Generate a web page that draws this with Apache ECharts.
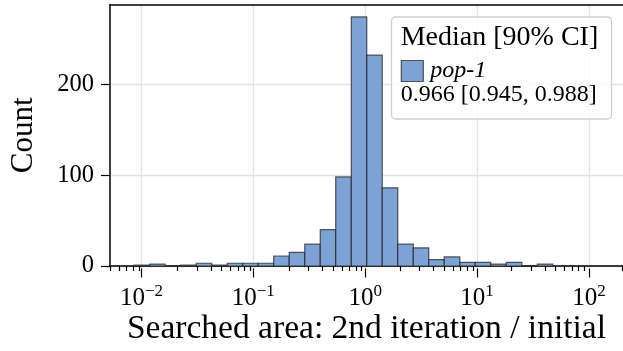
<!DOCTYPE html>
<html><head><meta charset="utf-8">
<script src="https://cdn.jsdelivr.net/npm/echarts@6/dist/echarts.min.js"></script>
<style>html,body{margin:0;padding:0;background:#fff}#c{width:623px;height:351px}</style>
</head><body><div id="c"></div>
<script>
// ---- data ----
const binEdgesLog10 = [-2.088, -1.948, -1.809, -1.670, -1.530, -1.391, -1.252, -1.112, -0.973, -0.834,
  -0.695, -0.555, -0.416, -0.277, -0.137, 0.002, 0.141, 0.280, 0.420, 0.559,
  0.698, 0.838, 0.977, 1.116, 1.255, 1.395, 1.534, 1.673];
const counts = [1, 2, 0, 1, 3, 1, 3, 3, 3, 11,
  15, 24, 40, 98, 274, 232, 86, 24, 20, 7,
  10, 4, 4, 2, 4, 0, 2];
const xMajorExponents = [-2, -1, 0, 1, 2];
const yTickValues = [0, 100, 200];
const seriesName = 'pop-1';
const legendTitle = 'Median [90% CI]';
const legendValue = '0.966 [0.945, 0.988]';
const xAxisTitle = 'Searched area: 2nd iteration / initial';
const yAxisTitle = 'Count';

// ---- styling / layout ----
const FONT = '"Liberation Serif", "Times New Roman", serif';
const BAR = '#7ca2d6';
const EDGE = 'rgba(25,25,25,0.7)';
const GRIDC = '#e4e4e4';
const X_MIN = -2.305, X_MAX = 2.304, Y_MAX = 287.7;
const W = 623;
const gridTop = 4.5, gridBottom = 82.5, gridLeft = 107.3;
const pxPerDec = (W - gridLeft) / (X_MAX - X_MIN);
const g2Left = gridLeft + (xMajorExponents[0] - X_MIN) * pxPerDec;
const g2Right = W - (gridLeft + (xMajorExponents[xMajorExponents.length - 1] - X_MIN) * pxPerDec);

const data = counts.map((c, i) => [binEdgesLog10[i], binEdgesLog10[i + 1], c]);
const minorTicks = [];
for (let n = -3; n <= 2; n++) for (let k = 2; k <= 9; k++) {
  const v = n + Math.log10(k);
  if (v >= X_MIN && v <= X_MAX) minorTicks.push(v);
}
const axisLineStyle = { color: '#000', width: 1.5 };
const tickStyle = { color: '#000', width: 1.2 };

const chart = echarts.init(document.getElementById('c'), null, { renderer: 'canvas' });
chart.setOption({
  animation: false,
  grid: [
    { left: gridLeft, right: 0, top: gridTop, bottom: gridBottom },
    { left: g2Left, right: g2Right, top: gridTop, bottom: gridBottom }
  ],
  xAxis: [
    { gridIndex: 0, type: 'value', min: X_MIN, max: X_MAX, position: 'bottom',
      axisLine: { show: true, onZero: false, lineStyle: axisLineStyle },
      axisTick: { show: true, length: 5, customValues: minorTicks, lineStyle: tickStyle },
      axisLabel: { show: false }, splitLine: { show: false },
      name: xAxisTitle, nameLocation: 'middle', nameGap: 46,
      nameTextStyle: { fontFamily: FONT, fontSize: 33.5, color: '#000' } },
    { gridIndex: 0, type: 'value', min: X_MIN, max: X_MAX, position: 'top',
      axisLine: { show: true, onZero: false, lineStyle: axisLineStyle },
      axisTick: { show: false }, axisLabel: { show: false }, splitLine: { show: false } },
    { gridIndex: 1, type: 'value', min: xMajorExponents[0], max: xMajorExponents[xMajorExponents.length - 1], interval: 1, position: 'bottom',
      axisLine: { show: false, onZero: false },
      axisTick: { show: true, length: 9, lineStyle: tickStyle },
      axisLabel: { show: true, margin: 15,
        formatter: v => '{b|10}{s|' + (v < 0 ? '\u2212' + Math.abs(v) : v) + '}',
        rich: {
          b: { fontFamily: FONT, fontSize: 25, lineHeight: 30, color: '#000' },
          s: { fontFamily: FONT, fontSize: 17, lineHeight: 17, verticalAlign: 'top', color: '#000' }
        } },
      splitLine: { show: true, lineStyle: { color: GRIDC, width: 1.3 } } }
  ],
  yAxis: [
    { gridIndex: 0, type: 'value', min: 0, max: Y_MAX, interval: 100,
      axisLine: { show: true, onZero: false, lineStyle: axisLineStyle },
      axisTick: { show: true, length: 9, customValues: yTickValues, lineStyle: tickStyle },
      axisLabel: { show: true, customValues: yTickValues, margin: 16, fontFamily: FONT, fontSize: 24.5, color: '#000' },
      splitLine: { show: true, lineStyle: { color: GRIDC, width: 1.3 } },
      name: yAxisTitle, nameLocation: 'middle', nameGap: 71, nameRotate: 90,
      nameTextStyle: { fontFamily: FONT, fontSize: 31, color: '#000' } },
    { gridIndex: 1, type: 'value', min: 0, max: Y_MAX, show: false }
  ],
  legend: {
    data: [{ name: seriesName, icon: 'rect', itemStyle: { color: BAR, borderColor: EDGE, borderWidth: 1.2 } }],
    left: 400.7, top: 59, itemWidth: 22, itemHeight: 21, padding: 0, selectedMode: false, z: 20,
    textStyle: { fontFamily: FONT, fontSize: 24, fontStyle: 'italic', color: '#000', padding: [0, 0, 6, 2] }
  },
  graphic: [
    { type: 'rect', z: 10, shape: { x: 391.5, y: 17, width: 220, height: 102, r: 4 },
      style: { fill: 'rgba(255,255,255,0.8)', stroke: '#cfcfcf', lineWidth: 1.3 } },
    { type: 'text', z: 11, x: 400.7, y: 37.9,
      style: { text: legendTitle, fontFamily: FONT, fontSize: 28, fill: '#000', verticalAlign: 'middle' } },
    { type: 'text', z: 11, x: 400.7, y: 94.6,
      style: { text: legendValue, fontFamily: FONT, fontSize: 24, fill: '#000', verticalAlign: 'middle' } }
  ],
  series: [{
    type: 'custom', name: seriesName, xAxisIndex: 0, yAxisIndex: 0,
    encode: { x: [0, 1], y: 2 },
    renderItem: (params, api) => {
      const p0 = api.coord([api.value(0), 0]);
      const p1 = api.coord([api.value(1), api.value(2)]);
      return { type: 'rect',
        shape: { x: p0[0], y: p1[1], width: p1[0] - p0[0], height: p0[1] - p1[1] },
        style: { fill: BAR, stroke: EDGE, lineWidth: 1.2 } };
    },
    data: data
  }]
});
</script></body></html>
